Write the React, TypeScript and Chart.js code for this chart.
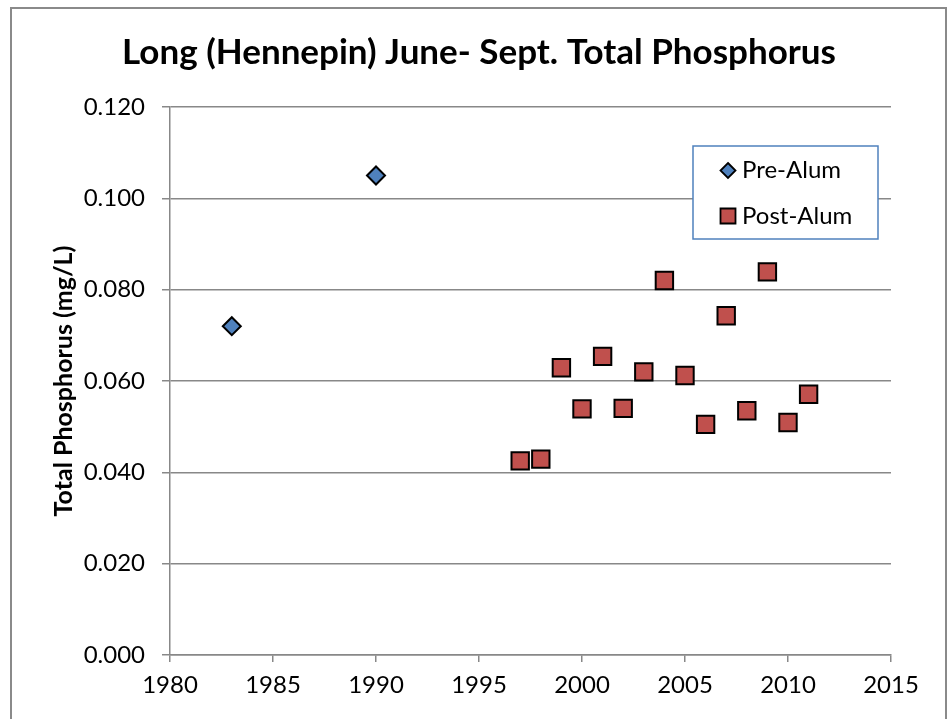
import React, { useEffect, useRef } from 'react';
import { Chart, registerables } from 'chart.js';

Chart.register(...registerables);

const titleText = 'Long (Hennepin) June- Sept. Total Phosphorus';
const yAxisTitle = 'Total Phosphorus (mg/L)';
const preLabel = 'Pre-Alum';
const postLabel = 'Post-Alum';

const preYears = [1983, 1990];
const preValues = [0.072, 0.105];

const postYears = [1997, 1998, 1999, 2000, 2001, 2002, 2003, 2004, 2005, 2006, 2007, 2008, 2009, 2010, 2011];
const postValues = [0.0425, 0.0429, 0.0629, 0.0539, 0.0654, 0.054, 0.062, 0.082, 0.0612, 0.0505, 0.0743, 0.0535, 0.0839, 0.0509, 0.0571];

const xTickValues = [1980, 1985, 1990, 1995, 2000, 2005, 2010, 2015];
const yTickValues = [0, 0.02, 0.04, 0.06, 0.08, 0.1, 0.12];

const FONT = 'Lato, "Open Sans", "DejaVu Sans", sans-serif';
const BLUE = '#4f81bd';
const RED = '#c0504d';
const GRID = '#888888';

const framePlugin = {
  id: 'frame',
  beforeDraw(chart: any) {
    const { ctx, width, height } = chart;
    ctx.save();
    ctx.fillStyle = '#ffffff';
    ctx.fillRect(0, 0, width, height);
    ctx.strokeStyle = '#8a8a8a';
    ctx.lineWidth = 2;
    ctx.strokeRect(11, 8, 935, height + 20);
    ctx.restore();
  },
};

const legendPlugin = {
  id: 'boxLegend',
  afterDraw(chart: any) {
    const { ctx } = chart;
    const x0 = 693, y0 = 146, w = 185, h = 93;
    ctx.save();
    ctx.fillStyle = '#ffffff';
    ctx.fillRect(x0, y0, w, h);
    ctx.strokeStyle = BLUE;
    ctx.lineWidth = 1.5;
    ctx.strokeRect(x0, y0, w, h);
    const rows = [170.5, 216];
    chart.data.datasets.forEach((ds: any, i: number) => {
      const cx = 728;
      const cy = rows[i];
      ctx.beginPath();
      if (ds.pointStyle === 'rectRot') {
        const r = 7.5;
        ctx.moveTo(cx, cy - r);
        ctx.lineTo(cx + r, cy);
        ctx.lineTo(cx, cy + r);
        ctx.lineTo(cx - r, cy);
        ctx.closePath();
      } else {
        const s = 7.5;
        ctx.rect(cx - s, cy - s, 2 * s, 2 * s);
      }
      ctx.fillStyle = ds.backgroundColor;
      ctx.fill();
      ctx.strokeStyle = '#000000';
      ctx.lineWidth = 1.8;
      ctx.stroke();
      ctx.fillStyle = '#000000';
      ctx.font = `24px ${FONT}`;
      ctx.textAlign = 'left';
      ctx.textBaseline = 'middle';
      ctx.fillText(ds.label, 742, cy);
    });
    ctx.restore();
  },
};

export default function App() {
  const canvasRef = useRef<HTMLCanvasElement | null>(null);

  useEffect(() => {
    const canvas = canvasRef.current;
    if (!canvas) return;
    const chart = new Chart(canvas, {
      type: 'scatter',
      data: {
        datasets: [
          {
            label: preLabel,
            data: preYears.map((x, i) => ({ x, y: preValues[i] })),
            pointStyle: 'rectRot',
            pointRadius: 9,
            pointHoverRadius: 9,
            backgroundColor: BLUE,
            borderColor: '#000000',
            pointBorderWidth: 2,
          } as any,
          {
            label: postLabel,
            data: postYears.map((x, i) => ({ x, y: postValues[i] })),
            pointStyle: 'rect',
            pointRadius: 12.3,
            pointHoverRadius: 12.3,
            backgroundColor: RED,
            borderColor: '#000000',
            pointBorderWidth: 2,
          } as any,
        ],
      },
      options: {
        responsive: false,
        animation: false,
        devicePixelRatio: 1,
        layout: { padding: { left: 10, right: 0, top: 0, bottom: 0 } },
        plugins: {
          legend: { display: false },
          tooltip: { enabled: false },
          title: {
            display: true,
            text: titleText,
            color: '#000000',
            font: { family: FONT, size: 35, weight: 'bold', lineHeight: 1.2 },
            padding: { top: 32, bottom: 33 },
          },
        },
        scales: {
          x: {
            type: 'linear',
            min: 1980,
            max: 2015,
            afterBuildTicks: (scale: any) => {
              scale.ticks = xTickValues.map((v) => ({ value: v }));
            },
            afterFit: (scale: any) => {
              scale.height = 64;
            },
            ticks: {
              color: '#000000',
              font: { family: FONT, size: 24 },
              padding: 9,
              maxRotation: 0,
              callback: (v: any) => String(v),
            },
            grid: {
              drawOnChartArea: false,
              drawTicks: true,
              tickLength: 7,
              color: GRID,
              lineWidth: 1.5,
            },
            border: { display: true, color: GRID, width: 1.5 },
          },
          y: {
            type: 'linear',
            min: 0,
            max: 0.12,
            afterBuildTicks: (scale: any) => {
              scale.ticks = yTickValues.map((v) => ({ value: v }));
            },
            afterFit: (scale: any) => {
              scale.width = 160;
            },
            ticks: {
              color: '#000000',
              font: { family: FONT, size: 24 },
              padding: 17,
              callback: (v: any) => Number(v).toFixed(3),
            },
            grid: {
              drawOnChartArea: true,
              drawTicks: true,
              tickLength: 8,
              color: GRID,
              lineWidth: 1.5,
            },
            border: { display: true, color: GRID, width: 1.5 },
            title: {
              display: true,
              text: yAxisTitle,
              color: '#000000',
              font: { family: FONT, size: 25, weight: 'bold', lineHeight: 1.2 },
              padding: { top: 39, bottom: 0 },
            },
          },
          yRight: {
            type: 'linear',
            position: 'right',
            display: true,
            min: 0,
            max: 1,
            ticks: { display: false },
            grid: { display: false, drawTicks: false },
            border: { display: false },
            afterFit: (scale: any) => {
              scale.width = 57;
            },
          },
        },
      } as any,
      plugins: [framePlugin, legendPlugin],
    });
    return () => chart.destroy();
  }, []);

  return (
    <div style={{ position: 'fixed', left: 0, top: 0, width: 948, height: 719, background: '#fff' }}>
      <canvas ref={canvasRef} width={948} height={719} style={{ display: 'block' }} />
    </div>
  );
}
